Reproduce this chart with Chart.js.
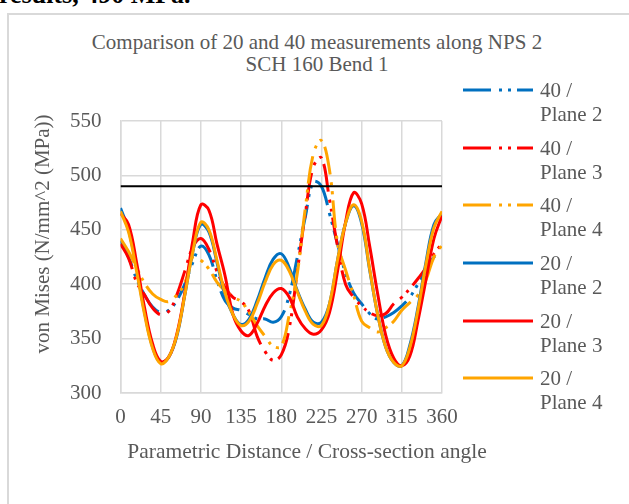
<!DOCTYPE html>
<html lang="en">
<head>
<meta charset="UTF-8">
<title>Comparison of 20 and 40 measurements along NPS 2 SCH 160 Bend 1</title>
<script src="https://cdn.jsdelivr.net/npm/chart.js"></script>
<style>
    body { margin: 0; width: 629px; height: 504px; overflow: hidden; background: #fff; position: relative; font-family: 'Liberation Serif', 'Times New Roman', serif; }
    /* bit of the report text above the figure */
    .above { position: absolute; left: -1px; top: -18px; font-size: 26px; line-height: 26px; font-weight: bold; color: #000; white-space: nowrap; }
    .frame { position: absolute; left: 7px; top: 13px; width: 700px; height: 600px; border: 2px solid #d9d9d9; box-sizing: border-box; }
    .title { position: absolute; left: 67px; width: 500px; top: 31px; text-align: center; color: #595959; font-size: 21px; line-height: 22px; }
    .xtitle { position: absolute; left: 107px; width: 400px; top: 439px; text-align: center; color: #595959; font-size: 21.5px; line-height: 24px; white-space: nowrap; }
    .ytitle { position: absolute; left: -108px; width: 300px; top: 221.5px; text-align: center; color: #595959; font-size: 21px; line-height: 24px; white-space: nowrap; transform: rotate(-90deg); }
    #chart { position: absolute; left: 0; top: 0; }
    .legend { position: absolute; left: 463px; top: 78px; }
    .legend .item { display: flex; align-items: flex-start; height: 57.7px; }
    .legend svg { margin-top: 10px; margin-right: 7px; flex: none; }
    .legend .txt { color: #595959; font-size: 21px; line-height: 24px; white-space: nowrap; }
</style>
</head>
<body>
<div class="above">results, 490 MPa.</div>
<div class="frame"></div>
<div class="title">Comparison of 20 and 40 measurements along NPS 2<br>SCH 160 Bend 1</div>
<canvas id="chart" width="629" height="504"></canvas>
<div class="xtitle">Parametric Distance / Cross-section angle</div>
<div class="ytitle">von Mises (N/mm^2 (MPa))</div>
<div class="legend" id="legend"></div>

<script>
// angle positions (deg) of the measurement points
const angles = [0, 9, 18, 27, 36, 45, 54, 63, 72, 81, 90, 99, 108, 117, 126, 135, 144, 153, 162, 171,
                180, 189, 198, 207, 216, 225, 234, 243, 252, 261, 270, 279, 288, 297, 306, 315, 324, 333, 342, 351, 360];

// 40 measurements
const m40plane2 = [440, 425, 405, 390, 379, 374, 376, 385, 400, 420, 435, 427, 404, 385, 378, 376, 372, 368, 368, 365,
                   370, 390, 425, 462, 494, 490, 465, 437, 410, 392, 382, 373, 368, 370, 374, 380, 388, 400, 412, 425, 428];
const m40plane3 = [437, 424, 402, 390, 378, 372, 375, 390, 412, 434, 442, 432, 412, 397, 388, 384, 375, 352, 338, 330,
                   335, 360, 412, 465, 508, 516, 478, 435, 400, 388, 380, 374, 371, 373, 382, 388, 396, 405, 415, 428, 437];
const m40plane4 = [442, 430, 415, 401, 391, 386, 384, 390, 401, 425, 422, 414, 402, 394, 388, 384, 374, 362, 352, 343,
                   343, 372, 410, 470, 520, 532, 505, 438, 413, 390, 366, 360, 356, 360, 366, 376, 383, 390, 404, 425, 436];

// 20 measurements
const m20plane2 = [470, 450, 415, 374, 342, 328, 333, 352, 390, 430, 455, 448, 420, 390, 372, 363, 368, 385, 406, 423,
                   428, 415, 394, 377, 365, 365, 382, 422, 456, 472, 456, 413, 372, 342, 328, 325, 344, 378, 420, 455, 465];
const m20plane3 = [465, 455, 420, 378, 345, 329, 333, 354, 392, 440, 473, 468, 437, 408, 372, 357, 353, 364, 380, 392,
                   396, 388, 370, 359, 354, 358, 374, 412, 457, 484, 474, 435, 391, 353, 332, 325, 334, 366, 404, 442, 463];
const m20plane4 = [467, 448, 412, 372, 341, 327, 333, 353, 390, 430, 457, 450, 422, 392, 372, 362, 366, 382, 402, 418,
                   422, 412, 393, 375, 363, 362, 382, 422, 456, 473, 458, 414, 372, 342, 328, 325, 342, 376, 418, 452, 467];

const limit = 490;   // allowable stress line
const seriesNames = ['40 / Plane 2', '40 / Plane 3', '40 / Plane 4', '20 / Plane 2', '20 / Plane 3', '20 / Plane 4'];
const seriesValues = [m40plane2, m40plane3, m40plane4, m20plane2, m20plane3, m20plane4];
const seriesColors = ['#0070C0', '#FF0000', '#FFA500', '#0070C0', '#FF0000', '#FFA500'];
const dashDotDot = [28, 8, 3, 6, 3, 6];

const toPoints = vals => vals.map((v, i) => ({ x: angles[i], y: v }));

const datasets = seriesValues.map((vals, i) => ({
    label: seriesNames[i],
    data: toPoints(vals),
    borderColor: seriesColors[i],
    borderWidth: 3,
    borderDash: i < 3 ? dashDotDot : [],
    pointRadius: 0,
    tension: 0.4,
    fill: false,
    order: 6 - i   // later series on top, like excel
}));
datasets.push({
    label: 'limit',
    data: [{ x: 0, y: limit }, { x: 360, y: limit }],
    borderColor: '#000',
    borderWidth: 2,
    pointRadius: 0,
    order: 0
});

const font = { family: "'Liberation Serif', 'Times New Roman', serif", size: 21 };

new Chart(document.getElementById('chart'), {
    type: 'line',
    data: { datasets: datasets },
    options: {
        responsive: false,
        animation: false,
        layout: { padding: { left: 25, top: 121, right: 187, bottom: 24 } },
        plugins: { legend: { display: false }, title: { display: false }, tooltip: { enabled: false } },
        scales: {
            x: {
                type: 'linear',
                min: 0, max: 360,
                afterFit: s => { s.height = 87; },
                ticks: { stepSize: 45, color: '#595959', font: font, padding: 12, maxRotation: 0, autoSkip: false },
                grid: { color: '#d9d9d9', lineWidth: 1.5, drawTicks: false },
                border: { color: '#d9d9d9', width: 1.5 }
            },
            y: {
                min: 300, max: 550,
                afterFit: s => { s.width = 95.5; },
                ticks: { stepSize: 50, color: '#595959', font: font, padding: 19 },
                grid: { color: '#d9d9d9', lineWidth: 1.5, drawTicks: false },
                border: { color: '#d9d9d9', width: 1.5 }
            }
        }
    }
});

// legend with two-line labels, built from the same series
const legend = document.getElementById('legend');
seriesNames.forEach((name, i) => {
    const item = document.createElement('div');
    item.className = 'item';
    const dash = i < 3 ? dashDotDot.join(' ') : 'none';
    const parts = name.split(' / ');
    item.innerHTML = '<svg width="70" height="4"><line x1="0" y1="2" x2="70" y2="2" stroke="' + seriesColors[i] +
        '" stroke-width="3" stroke-dasharray="' + dash + '"/></svg><div class="txt">' + parts[0] + ' /<br>' + parts[1] + '</div>';
    legend.appendChild(item);
});
</script>
</body>
</html>
